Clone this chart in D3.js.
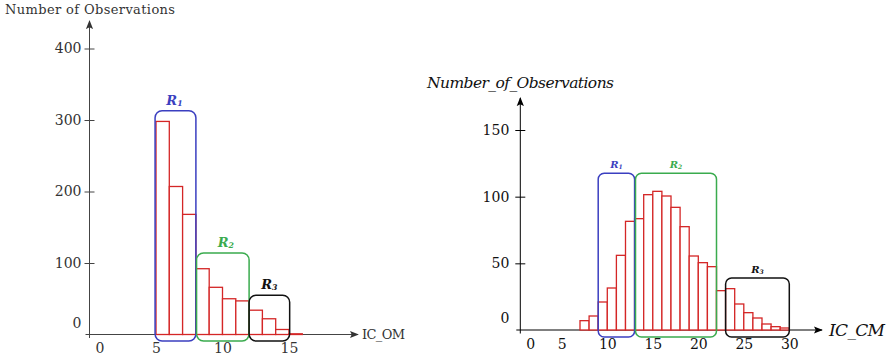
<!DOCTYPE html>
<html lang="en">
<head>
<meta charset="utf-8">
<style>
  html, body { margin:0; padding:0; background:#fff; overflow:hidden }
  svg { display:block }
  svg text { font-family: "DejaVu Serif", serif !important; }
  .bar { fill: #fff; stroke: #d42626; stroke-width: 1.3px; }
</style>
</head>
<body>
<svg width="891" height="361"></svg>
<script src="https://cdn.jsdelivr.net/npm/d3@7"></script>
<script>
// left histogram: IC_OM
var leftBinStart = [5, 6, 7, 8, 9, 10, 11, 12, 13, 14, 15];
var leftCounts   = [298, 207, 168, 92, 66, 50, 47, 34, 22, 7, 1];
var leftTicksX   = [0, 5, 10, 15];
var leftTicksY   = [0, 100, 200, 300, 400];
var leftRegName  = ["1", "2", "3"];
var leftRegFrom  = [4.93, 8.05, 12.0];
var leftRegTo    = [8.0, 12.0, 15.05];
var leftRegTop   = [313, 114, 55];

// right histogram: IC_CM
var rightBinStart = [7, 8, 9, 10, 11, 12, 13, 14, 15, 16, 17, 18, 19, 20, 21, 22, 23, 24, 25, 26, 27, 28, 29];
var rightCounts   = [7, 10.5, 21, 31.5, 56, 81.5, 83.5, 101.5, 104, 100.5, 92, 77.5, 55.5, 50.5, 47.5, 29.5, 31, 19.5, 13, 9, 4.5, 2.5, 1.5];
var rightTicksX   = [0, 5, 10, 15, 20, 25, 30];
var rightTicksY   = [0, 50, 100, 150];
var rightRegName  = ["1", "2", "3"];
var rightRegFrom  = [9, 13.1, 23];
var rightRegTo    = [13, 22, 30];
var rightRegTop   = [117.5, 117.5, 39];

var regColors = ["#3b3fc0", "#3aab4e", "#111111"];
var serif = "'DejaVu Serif', serif";

var svg = d3.select("svg");
var defs = svg.append("defs");

function arrow(id, color) {
    defs.append("marker")
        .attr("id", id)
        .attr("viewBox", "0 -5 10 10")
        .attr("refX", 9).attr("refY", 0)
        .attr("markerWidth", 9).attr("markerHeight", 9)
        .attr("markerUnits", "userSpaceOnUse")
        .attr("orient", "auto")
        .append("path")
        .attr("d", "M0,-4 L10,0 L0,4 L2,0 Z")
        .attr("fill", color);
}
arrow("arrL", "#333");
arrow("arrR", "#000");

function panel(o) {
    var g = svg.append("g").attr("font-family", serif);
    var x = o.x, y = o.y;

    // axis lines
    g.append("line")
        .attr("x1", o.yAxisX - 4).attr("x2", o.xEnd)
        .attr("y1", y(0)).attr("y2", y(0))
        .attr("stroke", o.axisColor).attr("stroke-width", 1)
        .attr("marker-end", "url(#" + o.marker + ")");
    g.append("line")
        .attr("x1", o.yAxisX).attr("x2", o.yAxisX)
        .attr("y1", y(0) + 3.5).attr("y2", o.yEnd)
        .attr("stroke", o.axisColor).attr("stroke-width", 1)
        .attr("marker-end", "url(#" + o.marker + ")");

    // y axis ticks
    var ya = g.append("g")
        .attr("transform", "translate(" + o.yAxisX + ",0)")
        .call(d3.axisLeft(y).tickValues(o.ticksY).tickSize(0).tickPadding(o.yPad));
    ya.attr("font-family", serif).attr("font-size", o.tickFont);
    ya.select(".domain").remove();
    ya.selectAll(".tick line").remove();
    ya.selectAll(".tick").filter(function (d) { return d !== 0; })
        .append("line")
        .attr("x1", -5).attr("x2", 5)
        .attr("stroke", o.axisColor);
    ya.selectAll(".tick text").attr("fill", o.textColor);
    ya.selectAll(".tick").filter(function (d) { return d === 0; })
        .select("text").attr("dy", "0.32em").attr("y", o.zeroYShift);

    // x axis labels
    var xa = g.append("g")
        .attr("transform", "translate(0," + y(0) + ")")
        .call(d3.axisBottom(x).tickValues(o.ticksX).tickSize(0).tickPadding(o.xPad));
    xa.attr("font-family", serif).attr("font-size", o.tickFont);
    xa.select(".domain").remove();
    xa.selectAll(".tick text").attr("fill", o.textColor);
    xa.selectAll(".tick").filter(function (d) { return d === 0; })
        .select("text").attr("x", o.zeroXShift);

    // bars
    g.selectAll("rect.bar")
        .data(o.start)
        .enter().append("rect")
        .attr("class", "bar")
        .attr("x", function (d) { return x(d); })
        .attr("width", function (d) { return x(d + 1) - x(d); })
        .attr("y", function (d, i) { return y(o.counts[i]); })
        .attr("height", function (d, i) { return y(0) - y(o.counts[i]); });

    // region boxes
    o.regName.forEach(function (n, i) {
        var x0 = x(o.regFrom[i]), x1 = x(o.regTo[i]);
        var t = y(o.regTop[i]), b = y(0) + o.regBottom;
        g.append("rect")
            .attr("x", x0).attr("y", t)
            .attr("width", x1 - x0).attr("height", b - t)
            .attr("rx", o.radius).attr("ry", o.radius)
            .attr("fill", "none")
            .attr("stroke", regColors[i]).attr("stroke-width", 1.5);
        var lab = g.append("text")
            .attr("x", (x0 + x1) / 2 + o.labShift[i]).attr("y", t - o.labGap)
            .attr("text-anchor", "middle")
            .attr("fill", regColors[i])
            .style("font-weight", "bold").style("font-style", "italic")
            .style("font-size", o.labFont + "px");
        lab.append("tspan").text("R");
        lab.append("tspan").attr("dy", 1).style("font-size", (o.labFont * 0.6) + "px").text(n);
    });

    // titles
    g.append("text")
        .attr("x", o.title[0]).attr("y", o.title[1])
        .attr("textLength", o.title[2]).attr("lengthAdjust", "spacing")
        .style("font-size", o.title[3] + "px")
        .style("font-style", o.italic ? "italic" : "normal")
        .attr("fill", o.textColor)
        .text(o.title[4]);
    g.append("text")
        .attr("x", o.xlab[0]).attr("y", o.xlab[1])
        .attr("textLength", o.xlab[2]).attr("lengthAdjust", "spacing")
        .style("font-size", o.xlab[3] + "px")
        .style("font-style", o.italic ? "italic" : "normal")
        .attr("fill", o.textColor)
        .text(o.xlab[4]);
}

var xL = d3.scaleLinear().domain([0, 15]).range([89.5, 289]);
var yL = d3.scaleLinear().domain([0, 400]).range([334.5, 48.5]);
panel({
    x: xL, y: yL, start: leftBinStart, counts: leftCounts,
    ticksX: leftTicksX, ticksY: leftTicksY,
    yAxisX: xL(0), xEnd: 358, yEnd: 21,
    axisColor: "#444", textColor: "#333", marker: "arrL",
    yPad: 8, xPad: 9, tickFont: 14, zeroYShift: -11, zeroXShift: 10,
    regName: leftRegName, regFrom: leftRegFrom, regTo: leftRegTo, regTop: leftRegTop,
    regBottom: 6.5, radius: 7, labGap: 6, labFont: 13, labShift: [-1, 3, 0],
    title: [5, 14, 170, 13, "Number of Observations"],
    xlab: [362, 339, 43, 13, "IC_OM"],
    italic: false
});

var xR = d3.scaleLinear().domain([0, 30]).range([516.3, 789.3]);
var yR = d3.scaleLinear().domain([0, 150]).range([330, 130]);
panel({
    x: xR, y: yR, start: rightBinStart, counts: rightCounts,
    ticksX: rightTicksX, ticksY: rightTicksY,
    yAxisX: xR(0) + 4, xEnd: 822, yEnd: 98,
    axisColor: "#000", textColor: "#111", marker: "arrR",
    yPad: 11, xPad: 9, tickFont: 14, zeroYShift: -12, zeroXShift: 14,
    regName: rightRegName, regFrom: rightRegFrom, regTo: rightRegTo, regTop: rightRegTop,
    regBottom: 7, radius: 6, labGap: 5, labFont: 10, labShift: [0, 0, 0],
    title: [427, 88, 187, 15.5, "Number_of_Observations"],
    xlab: [829, 336, 56, 17, "IC_CM"],
    italic: true
});
</script>
</body>
</html>
